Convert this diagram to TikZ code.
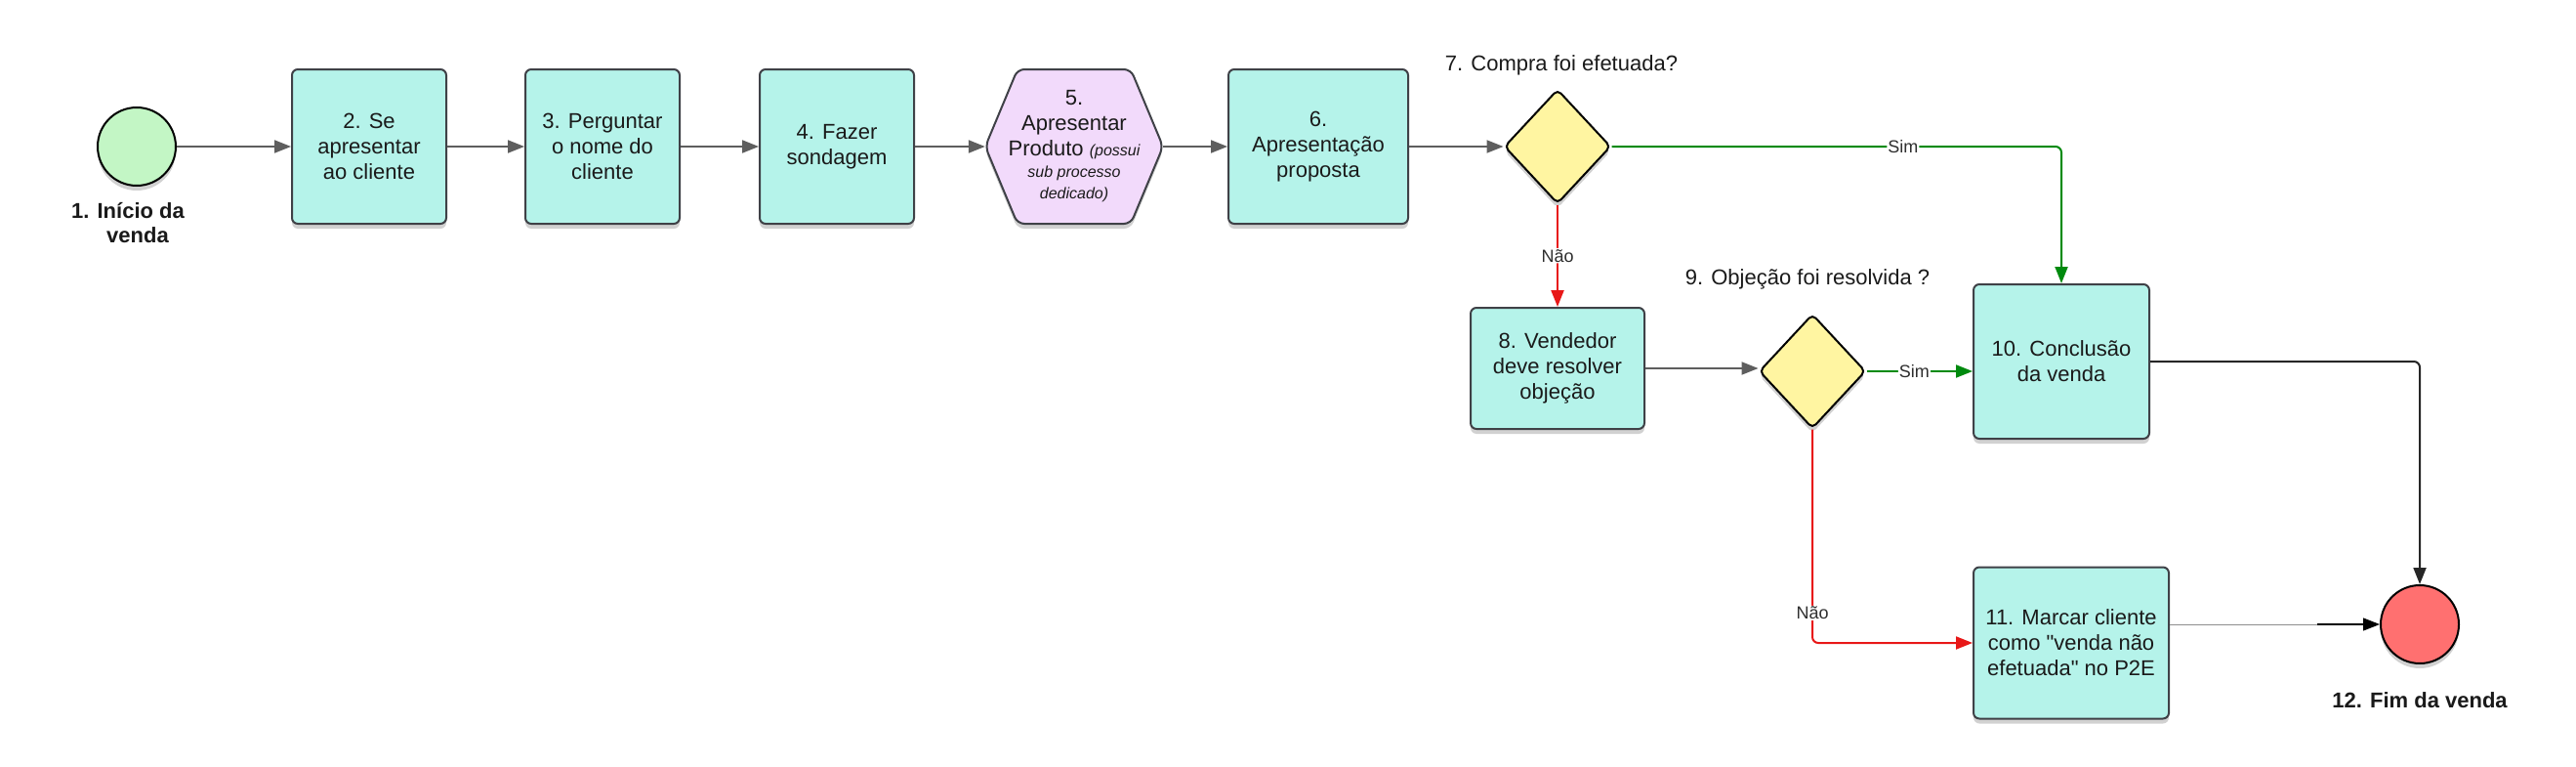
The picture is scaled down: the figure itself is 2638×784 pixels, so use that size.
\documentclass[tikz,border=0pt]{standalone}
\usepackage{fontspec}
\setmainfont{Liberation Sans}[Ligatures=TeXOff]
\usetikzlibrary{arrows.meta,shapes.geometric,shadows,calc}
\definecolor{boxfill}{HTML}{B5F3EA}
\definecolor{boxline}{HTML}{3F4147}
\definecolor{hexfill}{HTML}{F2DAFB}
\definecolor{decfill}{HTML}{FFF5A1}
\definecolor{startfill}{HTML}{C3F6C5}
\definecolor{endfill}{HTML}{FF7070}
\definecolor{flowgray}{HTML}{5E5E5E}
\definecolor{yesgreen}{HTML}{008A0E}
\definecolor{nored}{HTML}{E81818}
\definecolor{txt}{HTML}{1A1A1A}
\definecolor{lbltxt}{HTML}{2E2E2E}
\tikzset{
  shadowed/.style={drop shadow={shadow xshift=0pt,shadow yshift=-5pt,opacity=0.18,fill=black}},
  proc/.style={draw=boxline, line width=2pt, fill=boxfill, rounded corners=6pt,
    minimum width=158pt, minimum height=158pt, align=center, inner sep=0pt,
    font=\fontsize{22}{26}\selectfont, text=txt, shadowed},
  dec/.style={diamond, draw=black, fill=decfill, line width=2pt, minimum width=109pt,
    minimum height=117pt, inner sep=0pt, rounded corners=5pt, shadowed},
  event/.style={circle, draw=black, line width=2pt, minimum size=80pt, inner sep=0pt, shadowed},
  flow/.style={draw=flowgray, line width=2pt, -{Triangle[length=17pt,width=13pt]}},
  yesflow/.style={flow, draw=yesgreen, rounded corners=6pt},
  noflow/.style={flow, draw=nored, rounded corners=6pt},
  endflow/.style={flow, draw=black!85, rounded corners=6pt},
  lbl/.style={fill=white, inner sep=1pt, font=\fontsize{18}{20}\selectfont, text=lbltxt},
  question/.style={font=\fontsize{22}{26}\selectfont, text=txt},
  evlabel/.style={font=\bfseries\fontsize{22}{25}\selectfont, text=txt, align=center}
}
\begin{document}
\begin{tikzpicture}[x=1pt,y=-1pt]
\useasboundingbox[fill=white] (0,0) rectangle (2638,784);

% start
\node[event, fill=startfill] (s) at (140,150) {};
\node[evlabel] (sl) at (131,228) {1. Início da\\\hspace*{20pt}venda};

% process row
\node[proc] (b2) at (378,150) {2. Se\\apresentar\\ao cliente};
\node[proc] (b3) at (617,150) {3. Perguntar\\o nome do\\cliente};
\node[proc] (b4) at (857,150) {4. Fazer\\sondagem};

% hexagon 5
\coordinate (c5) at (1100,150);
\path[draw=boxline, line width=2pt, fill=hexfill, rounded corners=7pt, shadowed]
  ($(c5)+(-58,-79)$) -- ($(c5)+(58,-79)$) -- ($(c5)+(91,0)$) -- ($(c5)+(58,79)$)
  -- ($(c5)+(-58,79)$) -- ($(c5)+(-91,0)$) -- cycle;
\node[align=center, inner sep=0pt, minimum width=182pt, minimum height=158pt,
  font=\fontsize{22}{26}\selectfont, text=txt] (h5) at (c5)
  {5.\\Apresentar\\Produto {\fontsize{16}{19}\selectfont\itshape (possui}\\[-4pt]
   {\fontsize{16}{19}\selectfont\itshape sub processo}\\[-4pt]
   {\fontsize{16}{19}\selectfont\itshape dedicado)}};

\node[proc, minimum width=184pt] (b6) at (1350,150) {6.\\Apresentação\\proposta};

% decision 7
\node[dec] (d7) at (1595,150) {};
\node[question] (q7) at (1599,67) {7. Compra foi efetuada?};

% box 8
\node[proc, minimum width=178pt, minimum height=124pt] (b8) at (1595,377) {8. Vendedor\\deve resolver\\objeção};

% decision 9
\node[dec] (d9) at (1856,380) {};
\node[question] (q9) at (1851,286) {9. Objeção foi resolvida ?};

% box 10 and 11
\node[proc, minimum width=180pt] (b10) at (2111,370) {10. Conclusão\\da venda};
\node[proc, minimum width=200pt, minimum height=155pt] (b11) at (2121,658) {11. Marcar cliente\\como "venda não\\efetuada" no P2E};

% end
\node[event, fill=endfill] (e) at (2478,639) {};
\node[evlabel] (el) at (2478,717) {12. Fim da venda};

% connectors
\draw[flow] (s) -- (b2);
\draw[flow] (b2) -- (b3);
\draw[flow] (b3) -- (b4);
\draw[flow] (b4) -- (h5);
\draw[flow] (h5) -- (b6);
\draw[flow] (b6) -- (d7);
\draw[yesflow] (d7.east) -| (b10.north) node[lbl, pos=0.324] {Sim};
\draw[noflow] (d7.south) -- (b8.north) node[lbl, pos=0.5] {Não};
\draw[flow] (b8.east) -- (b8.east -| d9.west);
\draw[yesflow] (d9.east) -- (d9.east -| b10.west) node[lbl, pos=0.45] {Sim};
\draw[noflow] (d9.south) |- (b11.west) node[lbl, pos=0.43] {Não};
\draw[endflow] (b10.east) -| (e.north);
\coordinate (k) at (2373,639);
\draw[draw=flowgray!70, line width=1pt] (e.west -| b11.east) -- (k);
\draw[flow, draw=black, line width=1.2pt] (k) -- (e.west);
\end{tikzpicture}
\end{document}
